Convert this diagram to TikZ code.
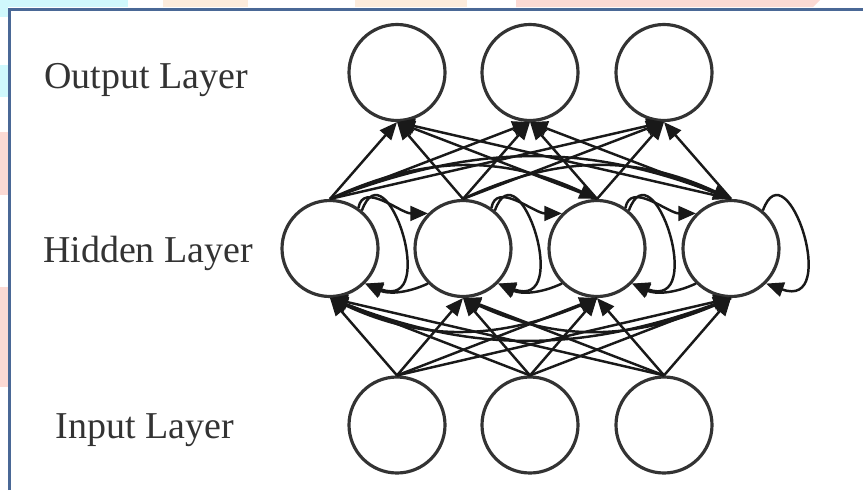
\documentclass[tikz,border=0pt]{standalone}
\usepackage{fontspec}
\setmainfont{Liberation Serif}
\usepackage{tikz}
\usetikzlibrary{arrows.meta}
\definecolor{framecol}{RGB}{74,104,150}
\definecolor{bgcyan}{RGB}{208,248,252}
\definecolor{bgpeach}{RGB}{253,236,220}
\definecolor{bgpink}{RGB}{252,218,212}
\newcommand{\lay}{\fontsize{10.8pt}{13pt}\selectfont}

\begin{document}
\begin{tikzpicture}[
    neuron/.style={circle,draw=black!80,line width=0.9pt,minimum size=0.96cm,inner sep=0pt,fill=white},
    conn/.style={line width=0.7pt,color=black!90,-{Triangle[length=5pt,width=4.2pt]}},
    layer/.style={anchor=base,text=black!80,font=\lay}]
       \useasboundingbox (0,0) rectangle (8.63,4.90);
       % coloured bits round the frame
       \fill[bgcyan]  (0,4.83) rectangle (1.28,4.90);
       \fill[bgcyan]  (0,4.73) rectangle (0.08,4.90);
       \fill[bgcyan]  (0,3.93) rectangle (0.08,4.25);
       \fill[bgpeach] (1.63,4.83) rectangle (2.48,4.90);
       \fill[bgpeach] (3.55,4.83) rectangle (4.67,4.90);
       \fill[bgpink]  (5.16,4.83) -- (8.13,4.83) -- (8.20,4.90) -- (5.16,4.90) -- cycle;
       \fill[bgpink]  (0,2.95) rectangle (0.08,3.58);
       \fill[bgpink]  (0,1.03) rectangle (0.08,2.03);
       \draw[framecol,line width=0.6pt] (0.095,0) |- (8.63,4.805);
       % layers
       \node[neuron] (o1) at (3.97,4.175) {};
       \node[neuron] (o2) at (5.30,4.175) {};
       \node[neuron] (o3) at (6.64,4.175) {};
       \node[neuron] (h1) at (3.30,2.415) {};
       \node[neuron] (h2) at (4.63,2.415) {};
       \node[neuron] (h3) at (5.97,2.415) {};
       \node[neuron] (h4) at (7.31,2.415) {};
       \node[neuron] (i1) at (3.97,0.65) {};
       \node[neuron] (i2) at (5.30,0.65) {};
       \node[neuron] (i3) at (6.64,0.65) {};
       \node[layer] (lout) at (1.46,4.02) {Output Layer};
       \node[layer] (lhid) at (1.48,2.28) {Hidden Layer};
       \node[layer] (lin)  at (1.45,0.52) {Input Layer};
       % input -> hidden
       \path[conn] (i1.north) edge (h1.south) edge (h2.south) edge (h3.south) edge (h4.south);
       \path[conn] (i2.north) edge (h1.south) edge (h2.south) edge (h3.south) edge (h4.south);
       \path[conn] (i3.north) edge (h1.south) edge (h2.south) edge (h3.south) edge (h4.south);
       % hidden -> output
       \path[conn] (h1.north) edge (o1.south) edge (o2.south) edge (o3.south);
       \path[conn] (h2.north) edge (o1.south) edge (o2.south) edge (o3.south);
       \path[conn] (h3.north) edge (o1.south) edge (o2.south) edge (o3.south);
       \path[conn] (h4.north) edge (o1.south) edge (o2.south) edge (o3.south);
       % hidden -> hidden, long ones
       \path[conn] (h1.north) edge[bend left=25] (h3.north) edge[bend left=21] (h4.north);
       \path[conn] (h2.north) edge[bend left=25] (h4.north);
       \path[conn] (h3.south) edge[bend left=25] (h1.south);
       \path[conn] (h4.south) edge[bend left=21] (h1.south) edge[bend left=25] (h2.south);
       % hidden -> hidden, neighbours
       \draw[conn] (h1.55) to[out=80,in=180] (h2.135);
       \draw[conn] (h2.55) to[out=80,in=180] (h3.135);
       \draw[conn] (h3.55) to[out=80,in=180] (h4.135);
       \draw[conn] (h2.-135) to[bend left=25] (h1.-45);
       \draw[conn] (h3.-135) to[bend left=25] (h2.-45);
       \draw[conn] (h4.-135) to[bend left=25] (h3.-45);
       % self loops
       \draw[conn] (h1.50) .. controls +(70:0.7) and +(-20:0.8) .. (h1.-45);
       \draw[conn] (h2.50) .. controls +(70:0.7) and +(-20:0.8) .. (h2.-45);
       \draw[conn] (h3.50) .. controls +(70:0.7) and +(-20:0.8) .. (h3.-45);
       \draw[conn] (h4.50) .. controls +(70:0.7) and +(-20:0.8) .. (h4.-45);
\end{tikzpicture}
\end{document}
